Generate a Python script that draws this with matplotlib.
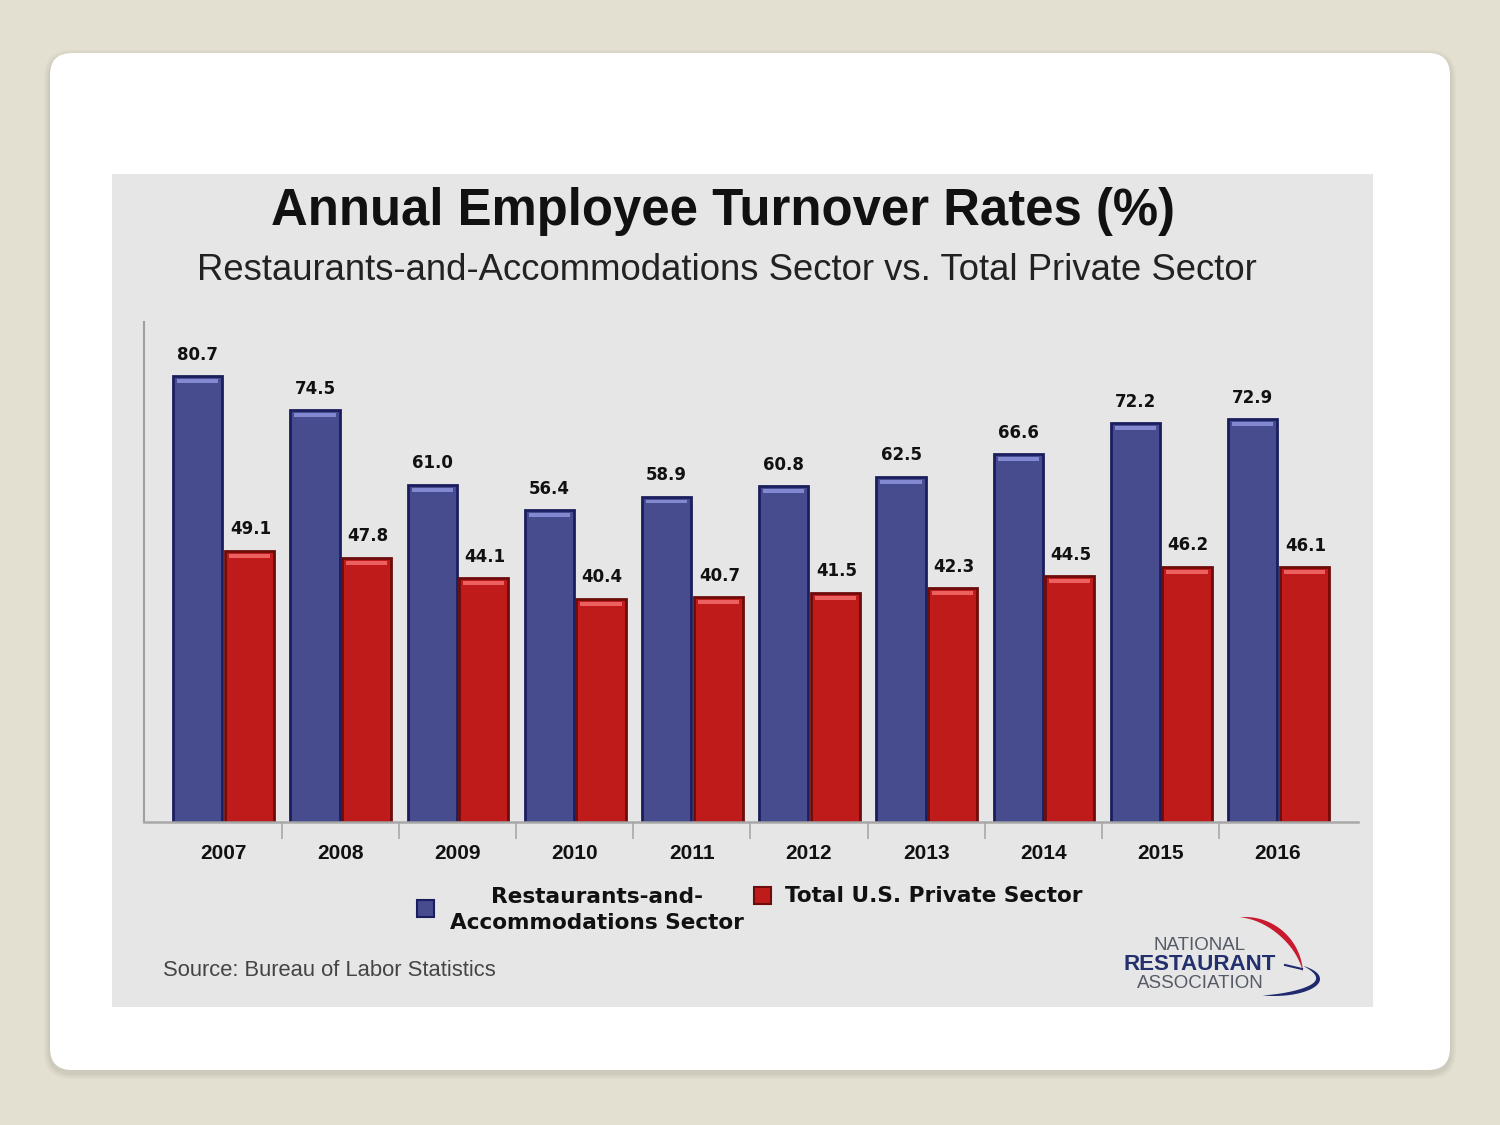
import numpy as np
import matplotlib
matplotlib.use("Agg")
import matplotlib.pyplot as plt
from matplotlib.patches import FancyBboxPatch, Rectangle, Polygon

# ---- data ----
years = ["2007", "2008", "2009", "2010", "2011", "2012", "2013", "2014", "2015", "2016"]
restaurants = [80.7, 74.5, 61.0, 56.4, 58.9, 60.8, 62.5, 66.6, 72.2, 72.9]
private_sector = [49.1, 47.8, 44.1, 40.4, 40.7, 41.5, 42.3, 44.5, 46.2, 46.1]
series_names = ["Restaurants-and-\nAccommodations Sector", "Total U.S. Private Sector"]
title = "Annual Employee Turnover Rates (%)"
subtitle = "Restaurants-and-Accommodations Sector vs. Total Private Sector"
source = "Source: Bureau of Labor Statistics"

BLUE, BLUE_EDGE, BLUE_HI = "#474c8f", "#1b1e5e", "#8289d0"
RED, RED_EDGE, RED_HI = "#c01b1b", "#6e0c0c", "#ec6060"

W, H = 1500, 1125
fig = plt.figure(figsize=(15, 11.25), dpi=100)
fig.patch.set_facecolor("#e3dfd1")

# background / decoration axes in pixel coordinates
bg = fig.add_axes([0, 0, 1, 1])
bg.set_xlim(0, W)
bg.set_ylim(H, 0)
bg.axis("off")
# soft card shadow + card
for k, a in [(6, 0.12), (4, 0.18), (2, 0.25)]:
    bg.add_patch(FancyBboxPatch((50 - k, 53 - k + 3), 1400 + 2 * k, 1017 + 2 * k,
                                boxstyle="round,pad=0,rounding_size=%d" % (22 + k),
                                facecolor="#b9b5a6", edgecolor="none", alpha=a))
bg.add_patch(FancyBboxPatch((50, 53), 1400, 1017, boxstyle="round,pad=0,rounding_size=22",
                            facecolor="white", edgecolor="none"))
# gray panel
bg.add_patch(Rectangle((112, 174), 1261, 833, facecolor="#e6e6e6", edgecolor="none"))

# titles
bg.text(723, 212, title, ha="center", va="center", fontsize=36.6, fontweight="bold",
        family="Liberation Sans", color="#111111")
bg.text(727, 271, subtitle, ha="center", va="center", fontsize=26.3,
        family="Liberation Sans", color="#222222")
bg.text(163, 970, source, ha="left", va="center", fontsize=15.8,
        family="Liberation Sans", color="#444444")

# legend (manual)
bg.add_patch(Rectangle((417, 900), 17, 17, facecolor=BLUE, edgecolor=BLUE_EDGE, lw=1.5))
bg.add_patch(Rectangle((754, 887), 17, 17, facecolor=RED, edgecolor=RED_EDGE, lw=1.5))
bg.text(597, 910, series_names[0], ha="center", va="center", multialignment="center",
        fontsize=15.6, fontweight="bold", family="DejaVu Sans", color="#111111",
        linespacing=1.38)
bg.text(785, 896, series_names[1], ha="left", va="center",
        fontsize=15.6, fontweight="bold", family="DejaVu Sans", color="#111111")

# logo
bg.text(1200, 945, "NATIONAL", ha="center", va="center", fontsize=13.5,
        family="Liberation Sans", color="#555a66")
bg.text(1200, 964, "RESTAURANT", ha="center", va="center", fontsize=16.1, fontweight="bold",
        family="Liberation Sans", color="#22306e")
bg.text(1200, 983, "ASSOCIATION", ha="center", va="center", fontsize=13.5,
        family="Liberation Sans", color="#555a66")
t = np.linspace(0, 1, 80)
ang = np.deg2rad(-95 + 92 * t)
r_out = 58
r_in = r_out - 5.5 * np.sin(np.pi * t)
cx, cy = 1245, 975
outer = np.c_[cx + r_out * np.cos(ang), cy + r_out * np.sin(ang)]
inner = np.c_[cx + r_in * np.cos(ang), cy + r_in * np.sin(ang)][::-1]
bg.add_patch(Polygon(np.vstack([outer, inner]), closed=True, facecolor="#c8192e", edgecolor="none"))
ang2 = np.deg2rad(-50 + 200 * t)
a_out, b_out = 46, 17
thick = 4.5 * np.sin(np.pi * np.clip(t * 1.3, 0, 1)) ** 0.8
ex, ey = 1274, 979
o2 = np.c_[ex + a_out * np.cos(ang2), ey + b_out * np.sin(ang2)]
i2 = np.c_[ex + (a_out - thick) * np.cos(ang2), ey + (b_out - thick) * np.sin(ang2)][::-1]
bg.add_patch(Polygon(np.vstack([o2, i2]), closed=True, facecolor="#1f2a6e", edgecolor="none"))
bg.plot([1285, 1302], [965, 969], color="#1f2a6e", lw=1.5)

# ---- chart axes ----
left, right, top, base = 144, 1358, 322, 822
ax = fig.add_axes([left / W, 1 - base / H, (right - left) / W, (base - top) / H])
ax.patch.set_alpha(0)
x = np.arange(len(years))
bw = 0.42
off_b, off_r = -0.215, 0.225
ax.bar(x + off_b, restaurants, bw, color=BLUE, edgecolor=BLUE_EDGE, linewidth=2.0, zorder=2)
ax.bar(x + off_r, private_sector, bw, color=RED, edgecolor=RED_EDGE, linewidth=2.0, zorder=2)
# top highlight strip
rv = np.array(restaurants)
pv = np.array(private_sector)
ax.bar(x + off_b, 0.7, bw * 0.84, bottom=rv - 1.25, color=BLUE_HI, linewidth=0, zorder=3)
ax.bar(x + off_r, 0.7, bw * 0.84, bottom=pv - 1.25, color=RED_HI, linewidth=0, zorder=3)

for xi, v in zip(x + off_b, restaurants):
    ax.annotate(f"{v:.1f}", (xi, v), xytext=(0, 9), textcoords="offset points",
                ha="center", va="bottom", fontsize=12, fontweight="bold",
                family="DejaVu Sans", color="#111111")
for xi, v in zip(x + off_r, private_sector):
    ax.annotate(f"{v:.1f}", (xi + 0.01, v), xytext=(0, 9), textcoords="offset points",
                ha="center", va="bottom", fontsize=12, fontweight="bold",
                family="DejaVu Sans", color="#111111")

ax.set_xlim(-0.674, 9.684)
ax.set_ylim(0, 90.5)
ax.set_xticks(x)
ax.set_xticklabels(years, fontsize=15, fontweight="bold", family="Liberation Sans", color="#111111")
ax.tick_params(axis="x", which="major", length=0, pad=15.5)
ax.set_xticks(x[:-1] + 0.5, minor=True)
ax.tick_params(axis="x", which="minor", length=12, width=1.2, color="#a8a8a8", direction="out")
ax.set_yticks([])
for s in ["top", "right"]:
    ax.spines[s].set_visible(False)
ax.spines["left"].set_color("#a0a0a0")
ax.spines["left"].set_linewidth(1.5)
ax.spines["bottom"].set_color("#a8a8a8")
ax.spines["bottom"].set_linewidth(1.8)

fig.savefig("out.png", dpi=100, facecolor=fig.get_facecolor())
